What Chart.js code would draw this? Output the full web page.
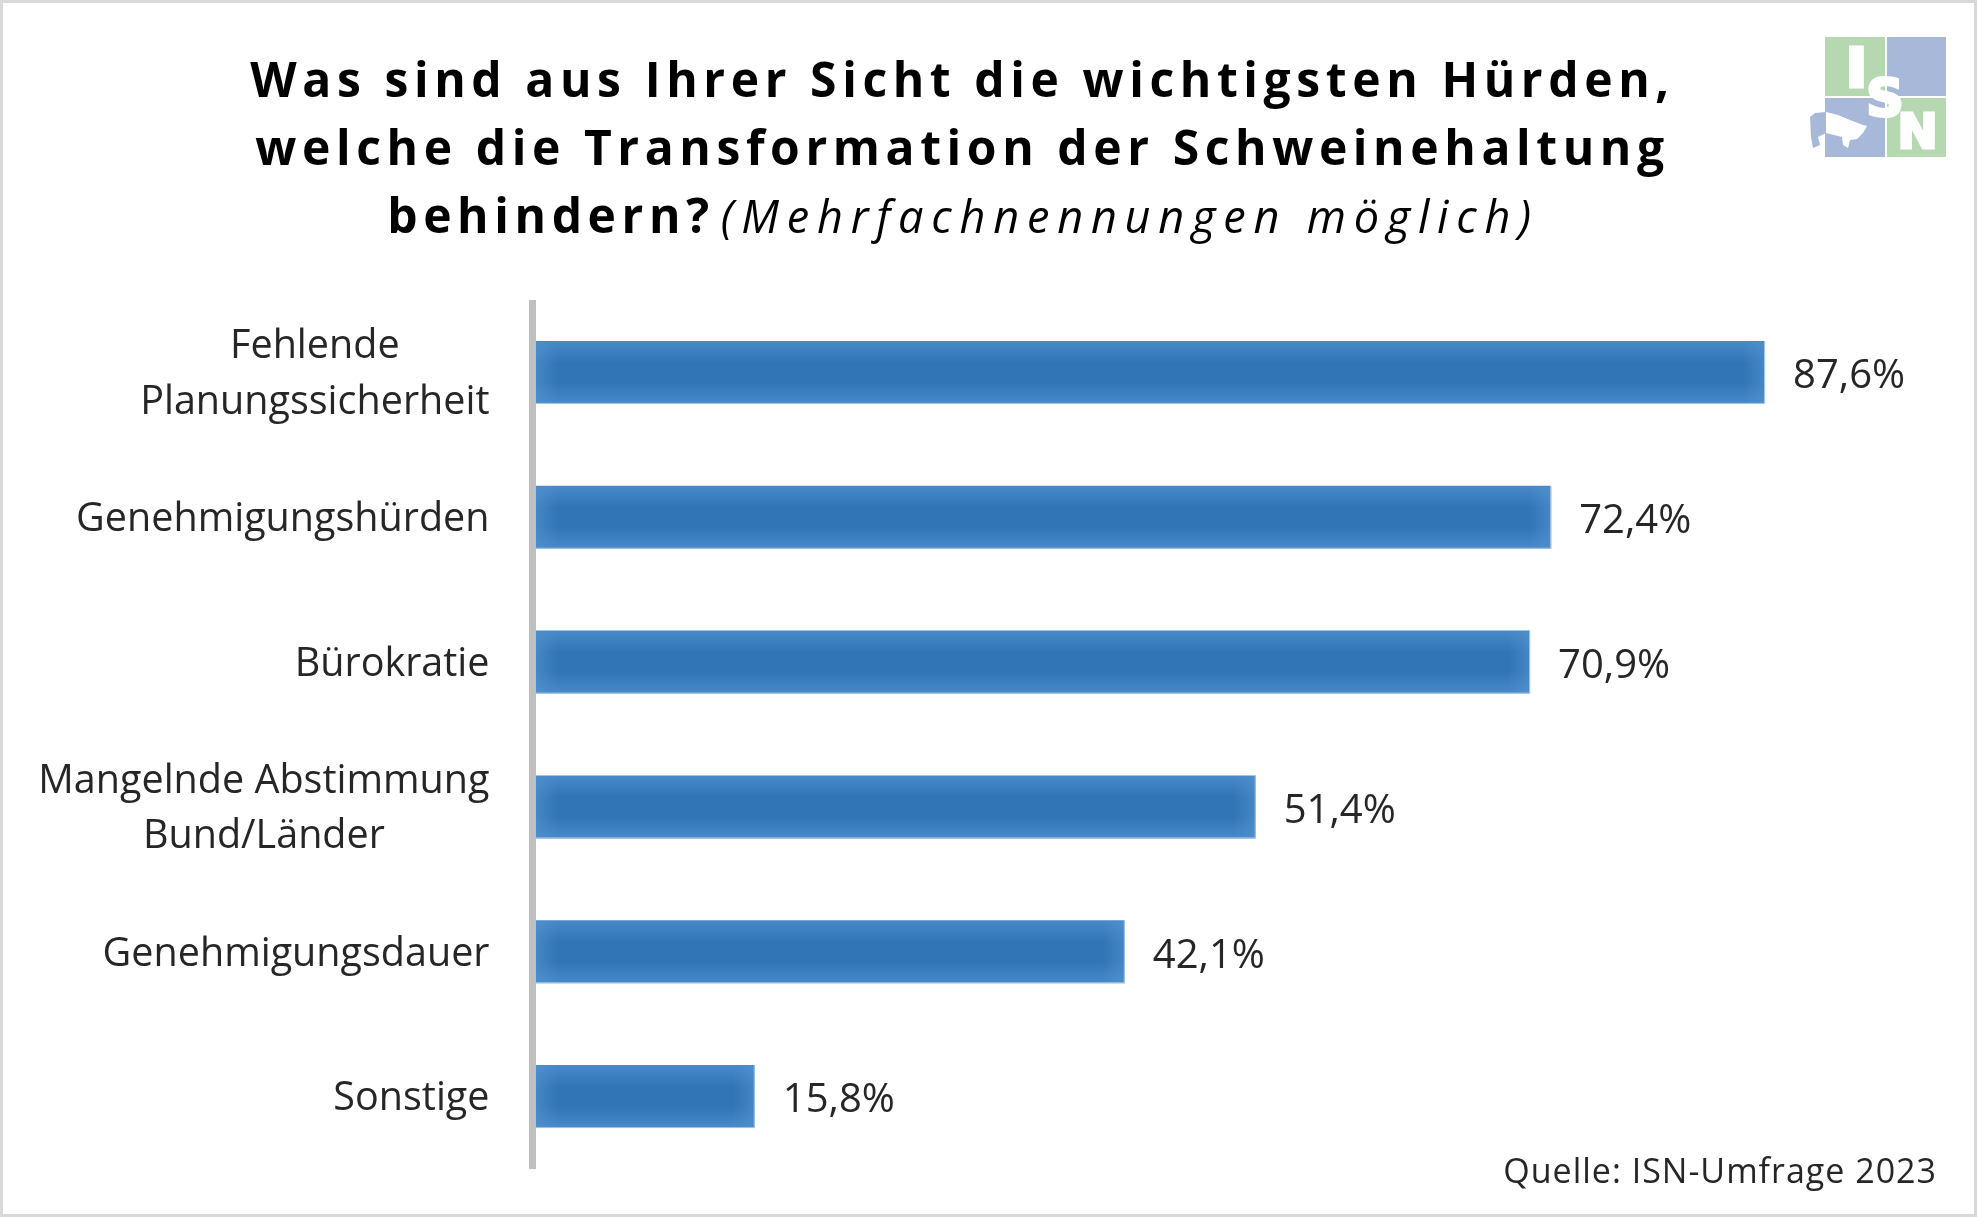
<!DOCTYPE html>
<html lang="de">
<head>
<meta charset="utf-8">
<title>ISN-Umfrage 2023</title>
<script src="https://cdn.jsdelivr.net/npm/chart.js@4"></script>
<style>
  html, body { margin: 0; padding: 0; background: #fff; }
  #page { position: relative; width: 1977px; height: 1217px; overflow: hidden; font-family: "Open Sans", sans-serif; color: #000; }
  #frame { position: absolute; inset: 0; border: 3px solid #d9d9d9; box-sizing: border-box; pointer-events: none; }
  #my-chart { position: absolute; left: 0; top: 0; }
  #title { position: absolute; left: 150px; width: 1625px; top: 45px; text-align: center; font-size: 48px; line-height: 68px; font-weight: 700; letter-spacing: 5.6px; white-space: nowrap; }
  #title i { font-weight: 400; font-size: 45px; letter-spacing: 7.8px; margin-left: 5px; position: relative; left: 1px; }
  #source { position: absolute; right: 40px; top: 1147px; font-size: 34px; letter-spacing: 1px; color: #262626; white-space: nowrap; }
  #logo { position: absolute; left: 1805px; top: 30px; }
</style>
</head>
<body>
<div id="page">
  <canvas id="my-chart" width="1977" height="1217"></canvas>
  <div id="title">Was sind aus Ihrer Sicht die wichtigsten Hürden,<br>welche die Transformation der Schweinehaltung<br>behindern?<i>(Mehrfachnennungen möglich)</i></div>
  <div id="source">Quelle: ISN-Umfrage 2023</div>
  <svg id="logo" width="150" height="135" viewBox="0 0 150 135">
    <rect x="20" y="7" width="60" height="59" fill="#b5d8b0"/>
    <rect x="82" y="7" width="59" height="59" fill="#a8b8d8"/>
    <rect x="20" y="68" width="60" height="59" fill="#a8b8d8"/>
    <rect x="82" y="68" width="59" height="59" fill="#b5d8b0"/>
    <path d="M5 87 L10 83 L21 82 L21 103 L13 107 L15 115 L8 118 L6 107 Z" fill="#a8b8d8"/>
    <path d="M21 82 L33 85 L45 90 L58 95 L62 96 L58 103 L52 109 L45 110 L43 118 L38 115 L37 107 L21 103 Z" fill="#fff"/>
    <g font-family="DejaVu Sans" font-weight="700" fill="#fff" stroke="#fff" text-anchor="middle">
      <text x="51.5" y="56" font-size="52" stroke-width="5">I</text>
      <text x="80" y="86" font-size="52" stroke-width="3">S</text>
      <text x="112.5" y="118" font-size="48" stroke-width="3">N</text>
    </g>
  </svg>
  <div id="frame"></div>
</div>
<script>
const categories = [
  ['Fehlende', 'Planungssicherheit'],
  ['Genehmigungshürden'],
  ['Bürokratie'],
  ['Mangelnde Abstimmung', 'Bund/Länder'],
  ['Genehmigungsdauer'],
  ['Sonstige']
]
const values = [87.6, 72.4, 70.9, 51.4, 42.1, 15.8]

const labelFont = '39.5px "Open Sans", sans-serif'
const valueFont = '40px "Open Sans", sans-serif'
const textColor = '#262626'

// axis line straddles the zero position and covers the start of the bars
const axisLine = {
  id: 'axisLine',
  afterDatasetsDraw(chart) {
    const { ctx, chartArea } = chart
    ctx.save()
    ctx.fillStyle = '#bfbfbf'
    ctx.fillRect(chartArea.left - 3.5, chartArea.top, 7, chartArea.bottom - chartArea.top)
    ctx.restore()
  }
}

// category labels are centred line by line inside a right aligned block
const categoryLabels = {
  id: 'categoryLabels',
  afterDraw(chart) {
    const { ctx, scales } = chart
    const lineHeight = 55.5
    const rightEdge = chart.chartArea.left - 43
    ctx.save()
    ctx.font = labelFont
    ctx.fillStyle = textColor
    ctx.textAlign = 'center'
    ctx.textBaseline = 'middle'
    categories.forEach((lines, i) => {
      const blockWidth = Math.max(...lines.map(l => ctx.measureText(l).width))
      const y = scales.y.getPixelForValue(i) + 2.5 - (lines.length - 1) * lineHeight / 2
      lines.forEach((line, n) => {
        ctx.fillText(line, rightEdge - blockWidth / 2, y + n * lineHeight)
      })
    })
    ctx.restore()
  }
}

// soft lighter ends on each bar plus the value text next to it
const barDecor = {
  id: 'barDecor',
  afterDatasetsDraw(chart) {
    const { ctx } = chart
    ctx.save()
    chart.getDatasetMeta(0).data.forEach((bar, i) => {
      const top = bar.y - bar.height / 2
      const edge = ctx.createLinearGradient(bar.x - 22, 0, bar.x, 0)
      edge.addColorStop(0, 'rgba(84,146,208,0)')
      edge.addColorStop(1, 'rgba(84,146,208,0.6)')
      ctx.fillStyle = edge
      ctx.fillRect(bar.x - 22, top + 1, 22, bar.height - 2)
      const left = bar.base + 3.5
      const edgeLeft = ctx.createLinearGradient(left, 0, left + 22, 0)
      edgeLeft.addColorStop(0, 'rgba(84,146,208,0.6)')
      edgeLeft.addColorStop(1, 'rgba(84,146,208,0)')
      ctx.fillStyle = edgeLeft
      ctx.fillRect(left, top + 1, 22, bar.height - 2)
      // thin light rim along the bottom and right
      ctx.fillStyle = '#a6c8ea'
      ctx.fillRect(bar.base, top + bar.height - 1, bar.x - bar.base, 1)
      ctx.fillRect(bar.x - 1, top, 1, bar.height)
      ctx.font = valueFont
      ctx.fillStyle = textColor
      ctx.textAlign = 'left'
      ctx.textBaseline = 'middle'
      ctx.fillText(values[i].toFixed(1).replace('.', ',') + '%', bar.x + 28, bar.y + 4.5)
    })
    ctx.restore()
  }
}

const barGradient = (context) => {
  const { chart, dataIndex } = context
  if (!chart.chartArea) return '#3176b7'
  const mid = chart.scales.y.getPixelForValue(dataIndex)
  const g = chart.ctx.createLinearGradient(0, mid - 32, 0, mid + 32)
  g.addColorStop(0, '#488aca')
  g.addColorStop(0.35, '#3175b6')
  g.addColorStop(0.65, '#3175b6')
  g.addColorStop(1, '#488aca')
  return g
}

const ctx = document.getElementById('my-chart').getContext('2d')
const chart = new Chart(ctx, {
  type: 'bar',
  plugins: [barDecor, axisLine, categoryLabels],
  data: {
    labels: categories,
    datasets: [
      {
        data: values,
        backgroundColor: barGradient,
        barPercentage: 0.435,
        categoryPercentage: 1
      }
    ]
  },
  options: {
    indexAxis: 'y',
    responsive: false,
    animation: false,
    devicePixelRatio: 1,
    layout: { padding: { top: 300, bottom: 48, right: 37.5, left: 0 } },
    plugins: { legend: { display: false }, tooltip: { enabled: false }, title: { display: false } },
    scales: {
      x: { display: false, min: 0, max: 100 },
      y: {
        grid: { display: false },
        border: { display: false },
        ticks: { display: false },
        afterFit(scale) { scale.width = 532.5 }
      }
    }
  }
})
</script>
</body>
</html>
